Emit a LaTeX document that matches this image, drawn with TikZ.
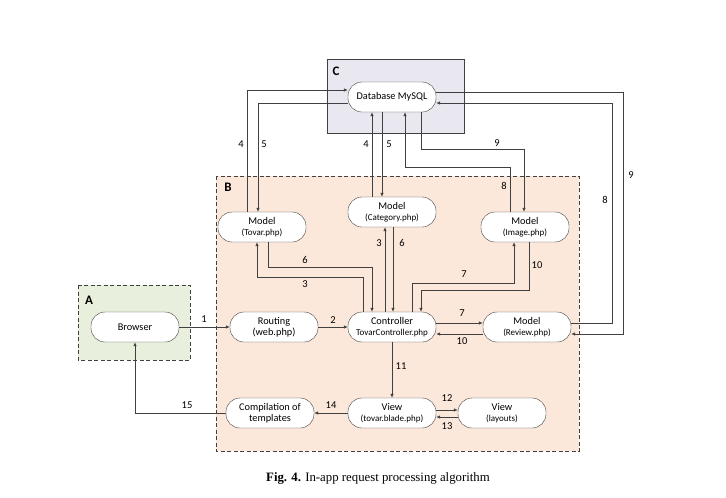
\documentclass[tikz,border=0pt]{standalone}
\usepackage{fontspec}
\setmainfont{Liberation Serif}
\newfontfamily\calfont{Carlito}
\usetikzlibrary{arrows.meta}

\definecolor{fillA}{HTML}{E8EFDD}
\definecolor{fillB}{HTML}{FCE8DA}
\definecolor{fillC}{HTML}{E9E7F0}
\definecolor{linegray}{HTML}{404040}

\newcommand{\fname}[1]{{\fontsize{9}{10.5}\selectfont #1}}

\tikzset{
	block/.style={draw=linegray, fill=white, rounded corners=14pt, minimum width=88pt,
		minimum height=30pt, align=center, inner sep=1pt,
		font=\calfont\fontsize{10.3}{11}\selectfont},
	arr/.style={-{Latex[length=4pt,width=3.5pt]}, draw=linegray, line width=0.6pt},
	num/.style={font=\calfont\fontsize{10.5}{11}\selectfont, inner sep=1pt},
	grp/.style={font=\calfont\bfseries\fontsize{13}{13}\selectfont, inner sep=0pt},
	dashbox/.style={draw=linegray, line width=0.6pt, dash pattern=on 4pt off 2.5pt}
}

\begin{document}
\begin{tikzpicture}[x=1pt, y=-1pt]
	\useasboundingbox (0,0) rectangle (726,498);
	
	% groups
	\draw[dashbox, fill=fillA] (78,285) rectangle (190,360);
	\draw[dashbox, fill=fillB] (216,176) rectangle (579,451);
	\draw[draw=linegray, line width=0.6pt, fill=fillC] (327,59) rectangle (464,133);
	\node[grp] (labA) at (89,300) {A};
	\node[grp] (labB) at (228,187) {B};
	\node[grp] (labC) at (336,71) {C};
	
	% nodes
	\node[block] (db) at (392,97) {Database MySQL};
	\node[block] (tovar) at (262,227) {Model\\\fname{(Tovar.php)}};
	\node[block] (categ) at (392,212) {Model\\\fname{(Category.php)}};
	\node[block] (image) at (525,227) {Model\\\fname{(Image.php)}};
	\node[block] (browser) at (135,327) {Browser};
	\node[block] (routing) at (274,327) {Routing\\(web.php)};
	\node[block] (ctrl) at (392,327) {Controller\\\fname{TovarController.php}};
	\node[block] (review) at (527,327) {Model\\\fname{(Review.php)}};
	\node[block] (compil) at (270,413) {Compilation of\\templates};
	\node[block] (view) at (392,413) {View\\\fname{(tovar.blade.php)}};
	\node[block] (layouts) at (502,413) {View\\\fname{(layouts)}};
	
	% request chain
	\draw[arr] (browser) -- (routing);
	\node[num] (n1) at (204,319) {1};
	\draw[arr] (routing) -- (ctrl);
	\node[num] (n2) at (333,320) {2};
	\draw[arr] ([yshift=4pt]ctrl.east) -- ([yshift=4pt]review.west);
	\node[num] (n7r) at (462,313) {7};
	\draw[arr] ([yshift=-7pt]review.west) -- ([yshift=-7pt]ctrl.east);
	\node[num] (n10r) at (462,341) {10};
	\draw[arr] (ctrl) -- (view);
	\node[num] (n11) at (401,366) {11};
	\draw[arr] ([yshift=3pt]view.east) -- ([yshift=3pt]layouts.west);
	\node[num] (n12) at (447,398) {12};
	\draw[arr] ([yshift=-4pt]layouts.west) -- ([yshift=-4pt]view.east);
	\node[num] (n13) at (447,426) {13};
	\draw[arr] (view) -- (compil);
	\node[num] (n14) at (331,405) {14};
	\draw[arr] (compil.west) -| (browser.south);
	\node[num] (n15) at (187,405) {15};
	
	% controller and models
	\draw[arr] ([xshift=-29pt]ctrl.north) |- (257,277) -- ([xshift=-5pt]tovar.south);
	\node[num] (n3t) at (305,284) {3};
	\draw[arr] ([xshift=6pt]tovar.south) |- (372,267) -- ([xshift=-20pt]ctrl.north);
	\node[num] (n6t) at (305,260) {6};
	\draw[arr] ([xshift=-7pt]ctrl.north) -- ([xshift=-7pt]categ.south);
	\node[num] (n3c) at (379,243) {3};
	\draw[arr] ([xshift=1pt]categ.south) -- ([xshift=1pt]ctrl.north);
	\node[num] (n6c) at (402,243) {6};
	\draw[arr] ([xshift=20pt]ctrl.north) |- (514,283) -- ([xshift=-11pt]image.south);
	\node[num] (n7i) at (464,274) {7};
	\draw[arr] ([xshift=4pt]image.south) |- (421,290) -- ([xshift=29pt]ctrl.north);
	\node[num] (n10i) at (537,265) {10};
	
	% models and database
	\draw[arr] ([xshift=-15pt]tovar.north) |- ([yshift=7pt]db.west);
	\node[num] (n4t) at (241,144) {4};
	\draw[arr] ([yshift=-6pt]db.west) -| ([xshift=-4pt]tovar.north);
	\node[num] (n5t) at (264,144) {5};
	\draw[arr] ([xshift=-20pt]categ.north) -- ([xshift=-20pt]db.south);
	\node[num] (n4c) at (366,144) {4};
	\draw[arr] ([xshift=-10pt]db.south) -- ([xshift=-10pt]categ.north);
	\node[num] (n5c) at (389,144) {5};
	\draw[arr] ([xshift=-15pt]image.north) |- (405,167) -- ([xshift=13pt]db.south);
	\node[num] (n8i) at (504,186) {8};
	\draw[arr] ([xshift=29pt]db.south) |- (524,149) -- ([xshift=-1pt]image.north);
	\node[num] (n9i) at (497,143) {9};
	\draw[arr] ([yshift=4pt]review.east) -| (612,103) -- ([yshift=-6pt]db.east);
	\node[num] (n8r) at (605,200) {8};
	\draw[arr] ([yshift=5pt]db.east) -| (623,334) -- ([yshift=-7pt]review.east);
	\node[num] (n9r) at (631,175) {9};
	
	% caption
	\node[font=\fontsize{12.8}{15}\selectfont] (cap) at (378,478) {\textbf{Fig. 4.} In-app request processing algorithm};
\end{tikzpicture}
\end{document}
